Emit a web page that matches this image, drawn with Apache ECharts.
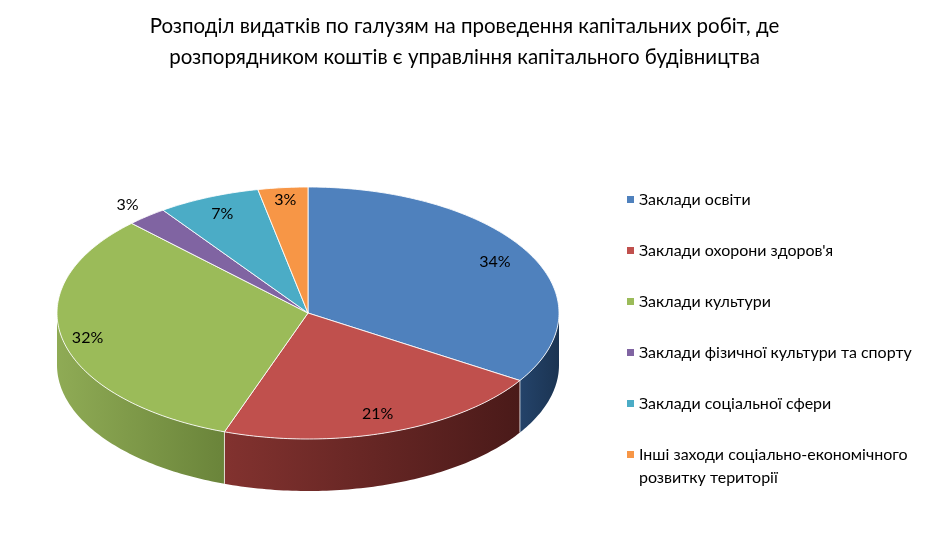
<!DOCTYPE html>
<html><head><meta charset="utf-8">
<script src="https://cdn.jsdelivr.net/npm/echarts@6/dist/echarts.min.js"></script>
<style>html,body{margin:0;padding:0;background:#fff}#c{width:929px;height:533px}</style>
</head><body><div id="c"></div>
<script>
// ---- data ----
const titleLines = ['Розподіл видатків по галузям на проведення капітальних робіт, де',
                    'розпорядником коштів є управління капітального будівництва'];
const categories = ['Заклади освіти', "Заклади охорони здоров'я", 'Заклади культури',
  'Заклади фізичної культури та спорту', 'Заклади соціальної сфери',
  'Інші заходи соціально-економічного розвитку території'];
const lastLegendLines = ['Інші заходи соціально-економічного', 'розвитку території'];
const values = [34.0, 21.4, 32.2, 2.6, 6.6, 3.2];

// ---- style ----
const FONT = 'Lato';
const colors = ['#4f81bd','#c0504d','#9bbb59','#8064a2','#4bacc6','#f79646'];
const sideColors = [['#24436a','#1b3452'],['#82322f','#4a1a19'],['#8fab55','#6a843a'],
                    ['#5e4a7a','#4a3a60'],['#3a8aa0','#2e6f80'],['#c0743a','#a05e2c']];
const labelRadius = [0.85, 0.85, 0.9, 1.12, 0.86, 0.9];
const CX = 308, CY = 313, RX = 251, RY = 126, DEPTH = 52;

const total = values.reduce((a, b) => a + b, 0);
function pt(t, dy) { return [CX + RX * Math.sin(t), CY - RY * Math.cos(t) + dy]; }
function arc(a, b, dy) {
  const out = []; const n = Math.max(2, Math.ceil((b - a) / (Math.PI / 180)));
  for (let k = 0; k <= n; k++) out.push(pt(a + (b - a) * k / n, dy));
  return out;
}

function makeRender(i) {
  return function (params, api) {
    let start = 0;
    for (let k = 0; k < i; k++) start += values[k];
    const v = api.value(0);
    const a0 = start / total * 2 * Math.PI, a1 = (start + v) / total * 2 * Math.PI;
    const children = [];
    const s = Math.max(a0, Math.PI / 2), e = Math.min(a1, 3 * Math.PI / 2);
    if (s < e) {
      const top = arc(s, e, 0), bot = arc(s, e, DEPTH).reverse();
      const xs = top.map(p => p[0]);
      const xmin = Math.min.apply(null, xs), xmax = Math.max.apply(null, xs);
      children.push({
        type: 'polygon', shape: { points: top.concat(bot) },
        style: { fill: new echarts.graphic.LinearGradient(xmin, 0, xmax, 0,
          [{ offset: 0, color: sideColors[i][0] }, { offset: 1, color: sideColors[i][1] }], true),
          stroke: null }
      });
      if (a0 > Math.PI / 2 && a0 < 3 * Math.PI / 2) {
        const p = pt(a0, 0);
        children.push({ type: 'line', shape: { x1: p[0], y1: p[1], x2: p[0], y2: p[1] + DEPTH },
          style: { stroke: 'rgba(255,255,255,0.7)', lineWidth: 1 } });
      }
    }
    children.push({
      type: 'polygon', shape: { points: [[CX, CY]].concat(arc(a0, a1, 0)) },
      style: { fill: colors[i], stroke: 'rgba(255,255,255,0.85)', lineWidth: 1, lineJoin: 'round' }
    });
    const m = (a0 + a1) / 2, f = labelRadius[i];
    children.push({
      type: 'text',
      style: { text: Math.round(v / total * 100) + '%', x: CX + f * RX * Math.sin(m), y: CY - f * RY * Math.cos(m),
        align: 'center', verticalAlign: 'middle', font: '16px ' + FONT, fill: '#000' }
    });
    return { type: 'group', children: children };
  };
}

const series = categories.map((name, i) => ({
  type: 'custom', name: name, coordinateSystem: 'none',
  itemStyle: { color: colors[i] },
  data: [[values[i]]],
  renderItem: makeRender(i)
}));

const chart = echarts.init(document.getElementById('c'), null, { renderer: 'canvas' });
chart.setOption({
  animation: false,
  color: colors,
  title: {
    text: titleLines.join('\n'), left: 'center', top: 6,
    textStyle: { fontFamily: FONT, fontSize: 20.5, fontWeight: 'normal', color: '#000', lineHeight: 31 }
  },
  legend: {
    orient: 'vertical', left: 627, top: 188, padding: 0, itemGap: 28, height: 340,
    itemWidth: 7, itemHeight: 7, icon: 'rect',
    textStyle: { fontFamily: FONT, fontSize: 16, color: '#000', lineHeight: 23,
      rich: {
        a: { fontFamily: FONT, fontSize: 16, color: '#000', lineHeight: 23 },
        b: { fontFamily: FONT, fontSize: 16, color: '#000', lineHeight: 0, height: 23, verticalAlign: 'top' }
      } },
    data: categories,
    formatter: n => n === categories[5] ? '{a|' + lastLegendLines[0] + '}\n{b|' + lastLegendLines[1] + '}' : n
  },
  series: series
});
</script></body></html>
